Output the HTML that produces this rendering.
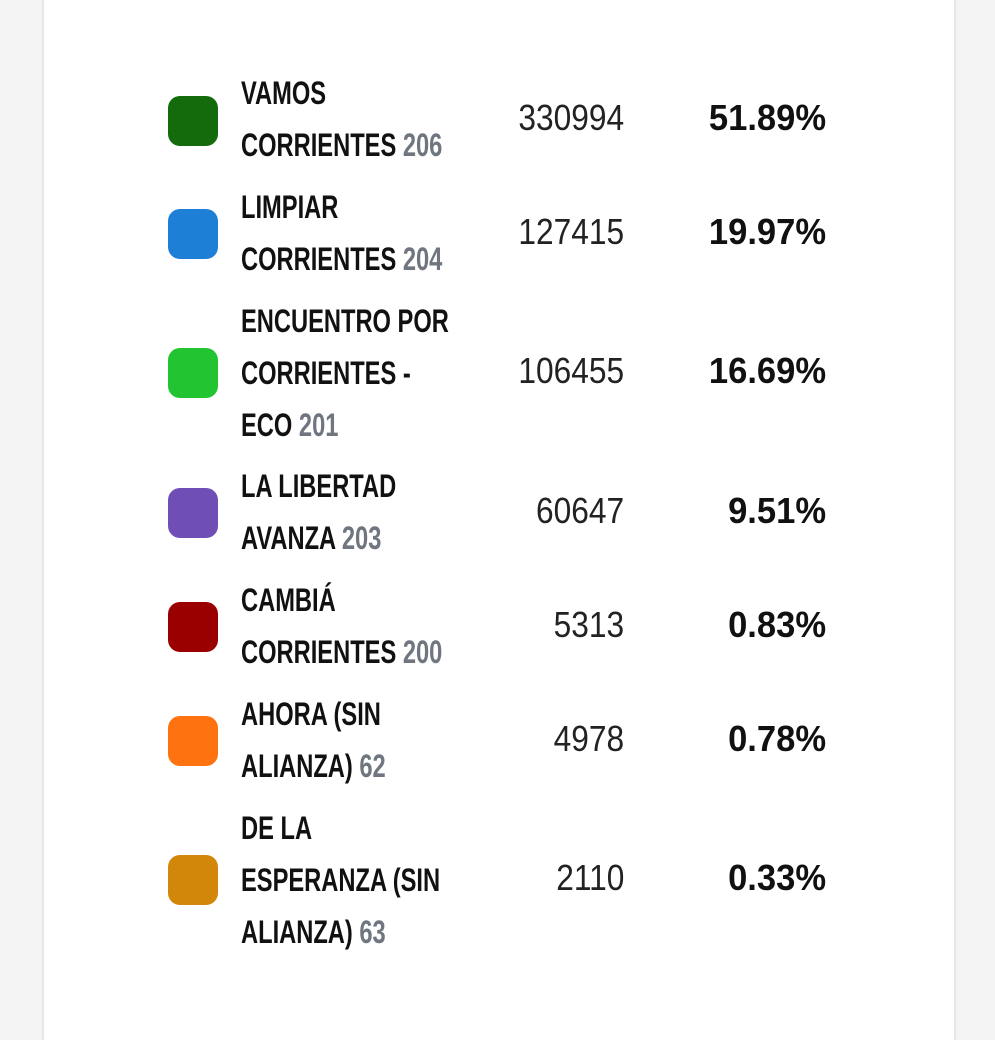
<!DOCTYPE html>
<html><head><meta charset="utf-8"><style>
html,body{margin:0;padding:0;background:#f4f4f4;}
body{width:995px;height:1024px;position:relative;overflow:hidden;font-family:"Liberation Sans",sans-serif;}
.card{position:absolute;left:42px;top:-10px;width:910px;height:1050px;background:#fff;border-left:2px solid #e6e6e6;border-right:2px solid #e6e6e6;}
.sw{position:absolute;left:168px;width:50px;height:50px;border-radius:12px;}
.n{position:absolute;left:241px;font-weight:bold;font-size:32px;line-height:52px;color:#111;white-space:nowrap;transform:scaleX(0.74);transform-origin:left top;}
.n span{color:#6f7680;}
.v{position:absolute;right:371px;font-size:36px;color:#222;line-height:40px;transform:scaleX(0.88);transform-origin:right top;}
.p{position:absolute;right:169px;font-size:36px;font-weight:bold;color:#111;line-height:40px;transform:scaleX(0.96);transform-origin:right top;}
</style></head><body>
<div class="card"></div>

<div class="sw" style="top:96px;background:#146b0b"></div>
<div class="n" style="top:67px">VAMOS<br>CORRIENTES <span>206</span></div>
<div class="v" style="top:98px">330994</div><div class="p" style="top:98px">51.89%</div>

<div class="sw" style="top:209px;background:#1e7fd6"></div>
<div class="n" style="top:181px">LIMPIAR<br>CORRIENTES <span>204</span></div>
<div class="v" style="top:212px">127415</div><div class="p" style="top:212px">19.97%</div>

<div class="sw" style="top:348px;background:#22c431"></div>
<div class="n" style="top:295px">ENCUENTRO POR<br>CORRIENTES -<br>ECO <span>201</span></div>
<div class="v" style="top:351px">106455</div><div class="p" style="top:351px">16.69%</div>

<div class="sw" style="top:488px;background:#6f4fb6"></div>
<div class="n" style="top:460px">LA LIBERTAD<br>AVANZA <span>203</span></div>
<div class="v" style="top:491px">60647</div><div class="p" style="top:491px">9.51%</div>

<div class="sw" style="top:602px;background:#9a0000"></div>
<div class="n" style="top:574px">CAMBIÁ<br>CORRIENTES <span>200</span></div>
<div class="v" style="top:605px">5313</div><div class="p" style="top:605px">0.83%</div>

<div class="sw" style="top:716px;background:#ff7210"></div>
<div class="n" style="top:688px">AHORA (SIN<br>ALIANZA) <span>62</span></div>
<div class="v" style="top:719px">4978</div><div class="p" style="top:719px">0.78%</div>

<div class="sw" style="top:855px;background:#d2860a"></div>
<div class="n" style="top:802px">DE LA<br>ESPERANZA (SIN<br>ALIANZA) <span>63</span></div>
<div class="v" style="top:858px">2110</div><div class="p" style="top:858px">0.33%</div>
</body></html>
